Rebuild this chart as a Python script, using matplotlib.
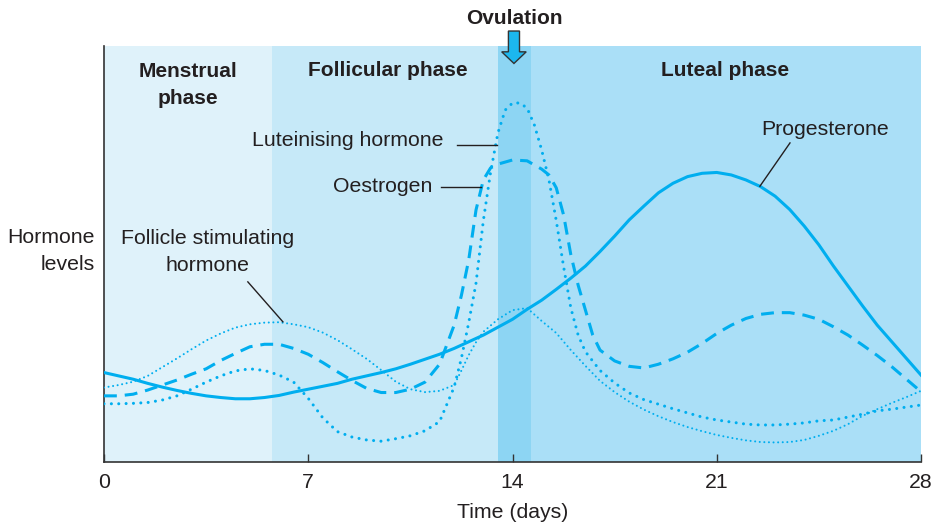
import matplotlib
matplotlib.use("Agg")
import matplotlib.pyplot as plt
from matplotlib.patches import Polygon

plt.rcParams['font.family'] = ['Liberation Sans', 'DejaVu Sans']

# ---- data (arbitrary hormone level units, 0-100) ----
prog_days = [0, 0.5, 1, 1.5, 2, 2.5, 3, 3.5, 4, 4.5, 5, 5.5, 6, 6.5, 7, 7.5,
             8, 8.5, 9, 9.5, 10, 10.5, 11, 11.5, 12, 12.5, 13, 13.5, 14, 14.5,
             15, 15.5, 16, 16.5, 17, 17.5, 18, 18.5, 19, 19.5, 20, 20.5, 21,
             21.5, 22, 22.5, 23, 23.5, 24, 24.5, 25, 25.5, 26, 26.5, 27, 27.5,
             28]
prog_level = [21.5, 20.7, 19.9, 18.9, 18.0, 17.2, 16.5, 15.9, 15.5, 15.2, 15.2,
              15.5, 16.0, 16.8, 17.5, 18.2, 18.9, 19.9, 20.7, 21.5, 22.4, 23.5,
              24.7, 25.9, 27.3, 28.9, 30.5, 32.4, 34.3, 36.7, 38.9, 41.5, 44.2,
              47.1, 50.6, 54.3, 58.2, 61.5, 64.7, 67.0, 68.6, 69.4, 69.6, 69.0,
              67.8, 66.2, 63.9, 60.7, 56.7, 52.2, 47.1, 42.3, 37.5, 32.9, 28.9,
              24.9, 20.9]

oest_days = [0, 0.5, 1, 1.5, 2, 2.5, 3, 3.5, 4, 4.5, 5, 5.5, 6, 6.5, 7, 7.5,
             8, 8.5, 9, 9.5, 10, 10.5, 11, 11.5, 12, 12.25, 12.5, 12.75, 13,
             13.25, 13.5, 14, 14.5, 15, 15.25, 15.5, 15.75, 16, 16.25, 16.5,
             16.75, 17, 17.5, 18, 18.5, 19, 19.5, 20, 20.5, 21, 21.5, 22, 22.5,
             23, 23.5, 24, 24.5, 25, 25.5, 26, 26.5, 27, 27.5, 28]
oest_level = [15.9, 15.9, 16.3, 17.3, 18.5, 19.7, 21.1, 22.4, 24.4, 26.1, 27.7,
              28.3, 28.3, 27.3, 25.9, 23.9, 21.7, 19.6, 17.7, 16.7, 16.7, 17.5,
              19.2, 23.5, 32.9, 40.1, 48.6, 60.6, 67.8, 70.7, 71.6, 72.6, 72.4,
              70.4, 69.0, 65.9, 59.4, 49.8, 42.5, 36.5, 30.5, 26.9, 24.3, 23.0,
              22.6, 23.5, 24.8, 26.4, 28.5, 30.9, 32.9, 34.5, 35.5, 35.9, 35.9,
              35.3, 34.3, 32.5, 30.5, 28.1, 25.6, 22.9, 19.9, 16.9]

lh_days = [0, 0.5, 1, 1.5, 2, 2.5, 3, 3.5, 4, 4.5, 5, 5.5, 6, 6.5, 7, 7.5, 8,
           8.5, 9, 9.5, 10, 10.5, 11, 11.5, 12, 12.25, 12.5, 12.75, 13, 13.25,
           13.5, 13.75, 14, 14.25, 14.5, 14.75, 15, 15.25, 15.5, 15.75, 16,
           16.25, 16.5, 17, 17.5, 18, 18.5, 19, 19.5, 20, 20.5, 21, 21.5, 22,
           22.5, 23, 23.5, 24, 24.5, 25, 25.5, 26, 26.5, 27, 27.5, 28]
lh_level = [14.0, 14.0, 14.1, 14.3, 14.9, 15.9, 17.5, 19.2, 20.7, 21.9, 22.4,
            22.0, 20.9, 19.2, 15.3, 10.6, 7.3, 6.0, 5.3, 5.0, 5.6, 6.3, 7.5,
            9.7, 18.0, 25.0, 33.5, 43.0, 58.0, 69.7, 79.1, 84.6, 86.3, 86.3,
            85.1, 81.0, 75.0, 67.8, 58.0, 47.0, 37.0, 30.5, 26.5, 22.0, 19.0,
            16.6, 15.0, 13.9, 12.8, 11.8, 10.8, 10.1, 9.6, 9.1, 8.9, 8.9, 9.1,
            9.4, 9.9, 10.1, 10.8, 11.5, 12.3, 12.7, 13.2, 13.7]

fsh_days = [0, 0.5, 1, 1.5, 2, 2.5, 3, 3.5, 4, 4.5, 5, 5.5, 6, 6.5, 7, 7.5, 8,
            8.5, 9, 9.5, 10, 10.5, 11, 11.5, 12, 12.25, 12.5, 12.75, 13, 13.5,
            14, 14.5, 15, 15.5, 16, 16.5, 17, 17.5, 18, 18.5, 19, 19.5, 20,
            20.5, 21, 21.5, 22, 22.5, 23, 23.5, 24, 24.5, 25, 25.5, 26, 26.5,
            27, 27.5, 28]
fsh_level = [17.9, 18.5, 19.3, 20.7, 22.8, 24.9, 27.1, 29.2, 30.9, 32.3, 33.1,
             33.5, 33.6, 33.1, 32.4, 31.1, 29.3, 27.1, 24.8, 22.1, 19.3, 17.5,
             16.8, 17.1, 18.5, 22.0, 25.7, 28.8, 31.3, 34.3, 36.5, 37.0, 33.9,
             31.0, 26.9, 23.1, 19.5, 16.8, 14.5, 12.6, 11.0, 9.6, 8.4, 7.4, 6.5,
             5.8, 5.2, 4.8, 4.7, 4.8, 5.3, 6.3, 7.5, 9.1, 11.1, 12.7, 14.2,
             15.6, 17.1]

phase_edges = [0, 5.75, 13.5, 14.65, 28]
phase_names = ["Menstrual\nphase", "Follicular phase", "", "Luteal phase"]
phase_colors = ["#dff2fa", "#c6e9f8", "#8dd5f3", "#aadff7"]
ovulation_day = 14
tick_days = [0, 7, 14, 21, 28]

LINE = "#00aeef"
INK = "#231f20"
FS = 15.3
FSB = 15.0
LSP = 1.53

fig = plt.figure(figsize=(9.41, 5.24), dpi=100)
ax = fig.add_axes([104 / 941, 1 - 462 / 524, 817 / 941, 416 / 524])
ax.set_xlim(0, 28)
ax.set_ylim(0, 100)

# phase bands
for i in range(4):
    ax.axvspan(phase_edges[i], phase_edges[i + 1], color=phase_colors[i],
               lw=0, zorder=0)

# phase labels
ax.text(2.88, 90.6, phase_names[0], ha="center", va="center", fontsize=FSB,
        fontweight="bold", color=INK, linespacing=LSP)
ax.text(9.73, 94.0, phase_names[1], ha="center", va="center", fontsize=FSB,
        fontweight="bold", color=INK)
ax.text(21.28, 94.0, phase_names[3], ha="center", va="center", fontsize=FSB,
        fontweight="bold", color=INK)

# hormone curves
ax.plot(prog_days, prog_level, color=LINE, lw=2.2, solid_joinstyle="round",
        zorder=3)
ax.plot(oest_days, oest_level, color=LINE, lw=2.2, dashes=(4.2, 2.6),
        dash_capstyle="butt", zorder=3)
ax.plot(lh_days, lh_level, color=LINE, lw=2.2, dashes=(0.01, 2.4),
        dash_capstyle="round", zorder=3)
ax.plot(fsh_days, fsh_level, color=LINE, lw=1.5, dashes=(0.01, 2.2),
        dash_capstyle="round", zorder=3)

# curve labels with leader lines
ax.text(11.65, 77.2, "Luteinising hormone", ha="right", va="center",
        fontsize=FS, color=INK)
ax.plot([12.09, 13.47], [76.2, 76.2], color=INK, lw=1.0, zorder=4)
ax.text(11.24, 66.3, "Oestrogen", ha="right", va="center", fontsize=FS,
        color=INK)
ax.plot([11.55, 12.92], [66.1, 66.1], color=INK, lw=1.0, zorder=4)
ax.text(24.71, 80.0, "Progesterone", ha="center", va="center", fontsize=FS,
        color=INK)
ax.plot([23.51, 22.48], [76.7, 66.3], color=INK, lw=1.0, zorder=4)
ax.text(3.56, 50.4, "Follicle stimulating\nhormone", ha="center",
        va="center", fontsize=FS, color=INK, linespacing=LSP)
ax.plot([4.93, 6.13], [43.3, 33.7], color=INK, lw=1.0, zorder=4)

# ovulation marker above the plot
ax.text(ovulation_day + 0.05, 106.7, "Ovulation", ha="center", va="center",
        fontsize=FSB, fontweight="bold", color=INK, clip_on=False)
cx = ovulation_day + 0.05
sw, hw = 0.19, 0.42
arrow = Polygon([(cx - sw, 103.6), (cx + sw, 103.6), (cx + sw, 98.6),
                 (cx + hw, 98.6), (cx, 95.8), (cx - hw, 98.6),
                 (cx - sw, 98.6)], closed=True, facecolor="#1cb7ee",
                edgecolor="#333333", lw=1.0, clip_on=False, zorder=5)
ax.add_patch(arrow)

# axes styling
for side in ("top", "right"):
    ax.spines[side].set_visible(False)
for side in ("left", "bottom"):
    ax.spines[side].set_color("#333333")
    ax.spines[side].set_linewidth(1.2)
ax.set_yticks([])
ax.set_xticks(tick_days)
ax.set_xticklabels([str(d) for d in tick_days], fontsize=FS, color=INK)
ax.tick_params(axis="x", direction="in", length=6, width=1.0,
               color="#333333", pad=8)
ax.set_xlabel("Time (days)", fontsize=FS, color=INK, labelpad=8)

fig.text(95 / 941, 1 - 251 / 524, "Hormone\nlevels", ha="right",
         va="center", fontsize=FS, color=INK, linespacing=LSP,
         multialignment="right")

fig.savefig("out.png", dpi=100)
